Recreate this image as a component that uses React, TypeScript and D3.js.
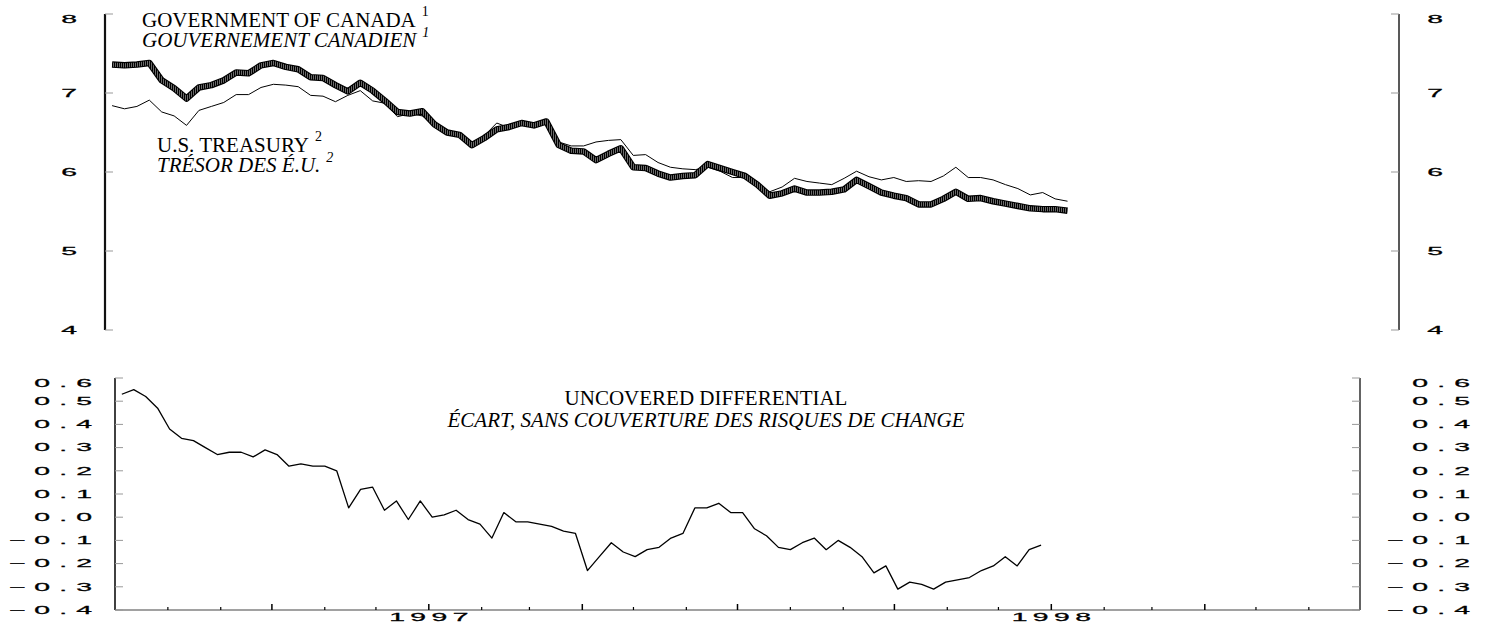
import * as d3 from 'd3';

// Weekly observations, first one on Friday 5 July 1996
const START = new Date(1996, 6, 5);

// Government of Canada yields (%)
const canadaYield = [
  7.36, 7.35, 7.36, 7.38, 7.16, 7.06, 6.93, 7.07, 7.10, 7.16,
  7.26, 7.25, 7.35, 7.38, 7.33, 7.30, 7.20, 7.19, 7.10, 7.02,
  7.13, 7.03, 6.90, 6.76, 6.74, 6.77, 6.60, 6.50, 6.47, 6.34,
  6.43, 6.54, 6.57, 6.62, 6.59, 6.64, 6.34, 6.27, 6.26, 6.15,
  6.23, 6.30, 6.06, 6.05, 5.98, 5.93, 5.95, 5.96, 6.10, 6.05,
  6.00, 5.95, 5.84, 5.70, 5.73, 5.79, 5.74, 5.74, 5.75, 5.78,
  5.90, 5.82, 5.74, 5.70, 5.67, 5.59, 5.59, 5.66, 5.75, 5.66,
  5.67, 5.63, 5.60, 5.57, 5.54, 5.53, 5.53, 5.51,
];

// U.S. Treasury yields (%)
const usYield = [
  6.84, 6.80, 6.83, 6.91, 6.76, 6.71, 6.59, 6.78, 6.83, 6.88,
  6.98, 6.98, 7.07, 7.11, 7.10, 7.08, 6.97, 6.96, 6.89, 6.97,
  7.03, 6.90, 6.87, 6.70, 6.74, 6.71, 6.60, 6.49, 6.47, 6.36,
  6.46, 6.62, 6.56, 6.64, 6.61, 6.66, 6.38, 6.33, 6.33, 6.38,
  6.40, 6.41, 6.21, 6.22, 6.12, 6.06, 6.04, 6.03, 6.06, 6.01,
  5.93, 5.93, 5.82, 5.75, 5.81, 5.92, 5.88, 5.86, 5.84, 5.92,
  6.01, 5.94, 5.90, 5.93, 5.88, 5.89, 5.88, 5.95, 6.06, 5.93,
  5.93, 5.90, 5.84, 5.79, 5.71, 5.74, 5.66, 5.63,
];

// Uncovered differential (percentage points)
const uncoveredDiff = [
  0.53, 0.55, 0.52, 0.47, 0.38, 0.34, 0.33, 0.30, 0.27, 0.28,
  0.28, 0.26, 0.29, 0.27, 0.22, 0.23, 0.22, 0.22, 0.20, 0.04,
  0.12, 0.13, 0.03, 0.07, -0.01, 0.07, 0.00, 0.01, 0.03, -0.01,
  -0.03, -0.09, 0.02, -0.02, -0.02, -0.03, -0.04, -0.06, -0.07, -0.23,
  -0.17, -0.11, -0.15, -0.17, -0.14, -0.13, -0.09, -0.07, 0.04, 0.04,
  0.06, 0.02, 0.02, -0.05, -0.08, -0.13, -0.14, -0.11, -0.09, -0.14,
  -0.10, -0.13, -0.17, -0.24, -0.21, -0.31, -0.28, -0.29, -0.31, -0.28,
  -0.27, -0.26, -0.23, -0.21, -0.17, -0.21, -0.14, -0.12,
];

const yieldTicks = [4, 5, 6, 7, 8];
const diffTicks = [-0.4, -0.3, -0.2, -0.1, 0.0, 0.1, 0.2, 0.3, 0.4, 0.5, 0.6];
const yearLabels = [new Date(1997, 0, 1), new Date(1998, 0, 1)];

const weeks = canadaYield.map((_, i) => d3.timeWeek.offset(START, i));
const xDomain: [Date, Date] = [new Date(1996, 6, 1), new Date(1998, 6, 1)];

const W = 1490;
const H = 627;
const top = { left: 105, right: 1399, top: 14, bottom: 330 };
const bot = { left: 115, right: 1360, top: 378, bottom: 610 };

const serif = '"Liberation Serif", "Times New Roman", serif';
const sans = '"Liberation Sans", Arial, sans-serif';
const SX = 2.7; // wide, squat digits of the original

function WideText(props: { x: number, y: number, text: string, anchor: 'start' | 'middle' | 'end', ls: number }) {
  // letter-spacing leaves a trailing gap; move the anchor to compensate
  const shift = props.anchor === 'end' ? props.ls : props.anchor === 'middle' ? props.ls / 2 : 0;
  return (
    <g transform={`translate(${props.x},${props.y}) scale(${SX},1)`}>
      <text x={shift} dy="0.36em" textAnchor={props.anchor} fontFamily={sans} fontSize={10.5}
        letterSpacing={props.ls} fill="#000" stroke="#000" strokeWidth={0.25}>{props.text}</text>
    </g>
  );
}

export default function App() {
  const xTop = d3.scaleTime().domain(xDomain).range([top.left, top.right]);
  const xBot = d3.scaleTime().domain(xDomain).range([bot.left, bot.right]);
  const yTop = d3.scaleLinear().domain([4, 8]).range([top.bottom, top.top]);
  const yBot = d3.scaleLinear().domain([-0.4, 0.6]).range([bot.bottom, bot.top]);

  const lineTop = d3.line<number>().x((_, i) => xTop(weeks[i])).y(d => yTop(d));
  const lineBot = d3.line<number>().x((_, i) => xBot(weeks[i])).y(d => yBot(d));

  const months = d3.timeMonth.range(d3.timeMonth.offset(xDomain[0], 1), xDomain[1]);
  const fmt = d3.format('.1f');
  const diffLabel = (v: number) => fmt(v).replace('-', '\u2212');

  return (
    <svg width={W} height={H} style={{ position: 'absolute', left: 0, top: 0, background: '#fff' }}>
      <defs>
        <pattern id="hatch" width="2" height="4" patternUnits="userSpaceOnUse">
          <rect width="2" height="4" fill="#6a6a6a" />
          <rect width="1" height="4" fill="#000" />
        </pattern>
      </defs>

      {/* ---------- top panel: yields ---------- */}
      <line x1={top.left} x2={top.left} y1={top.top} y2={top.bottom} stroke="#111" strokeWidth={2.2} />
      <line x1={top.right} x2={top.right} y1={top.top} y2={top.bottom} stroke="#222" strokeWidth={1.5} />
      {yieldTicks.map(t => (
        <g key={'yt' + t}>
          <line x1={top.left} x2={top.left + 8} y1={yTop(t)} y2={yTop(t)} stroke="#999" strokeWidth={1} />
          <line x1={top.right - 8} x2={top.right} y1={yTop(t)} y2={yTop(t)} stroke="#999" strokeWidth={1} />
          <WideText x={69} y={Math.max(yTop(t), top.top + 5)} text={String(t)} anchor="middle" ls={0} />
          <WideText x={1435} y={Math.max(yTop(t), top.top + 5)} text={String(t)} anchor="middle" ls={0} />
        </g>
      ))}

      <path d={lineTop(usYield) || ''} fill="none" stroke="#000" strokeWidth={1} strokeLinejoin="round" />
      <path d={lineTop(canadaYield) || ''} fill="none" stroke="#000" strokeWidth={6.5} strokeLinejoin="round" />
      <path d={lineTop(canadaYield) || ''} fill="none" stroke="url(#hatch)" strokeWidth={4.3} strokeLinejoin="round" />

      <text x={142} y={27} fontFamily={serif} fontSize={21} fill="#000">
        GOVERNMENT OF CANADA<tspan dx={6} dy={-11} fontSize={14}>1</tspan>
      </text>
      <text x={142} y={47} fontFamily={serif} fontSize={21} fontStyle="italic" fill="#000">
        GOUVERNEMENT CANADIEN<tspan dx={6} dy={-10} fontSize={14}>1</tspan>
      </text>
      <text x={157} y={152} fontFamily={serif} fontSize={21} fill="#000">
        U.S. TREASURY<tspan dx={6} dy={-11} fontSize={14}>2</tspan>
      </text>
      <text x={157} y={172} fontFamily={serif} fontSize={21} fontStyle="italic" fill="#000">
        TRÉSOR DES É.U.<tspan dx={6} dy={-10} fontSize={14}>2</tspan>
      </text>

      {/* ---------- bottom panel: differential ---------- */}
      <line x1={bot.left} x2={bot.left} y1={bot.top} y2={bot.bottom} stroke="#111" strokeWidth={1.6} />
      <line x1={bot.right} x2={bot.right} y1={bot.top} y2={bot.bottom} stroke="#222" strokeWidth={1.4} />
      <line x1={bot.left} x2={bot.right} y1={bot.bottom} y2={bot.bottom} stroke="#444" strokeWidth={1.2} />
      {diffTicks.map(t => (
        <g key={'dt' + t}>
          <line x1={bot.left} x2={bot.left + 8} y1={yBot(t)} y2={yBot(t)} stroke="#999" strokeWidth={1} />
          <line x1={bot.right - 8} x2={bot.right} y1={yBot(t)} y2={yBot(t)} stroke="#999" strokeWidth={1} />
          <WideText x={92} y={Math.max(yBot(t), bot.top + 5)} text={diffLabel(t)} anchor="end" ls={3.4} />
          <WideText x={1470} y={Math.max(yBot(t), bot.top + 5)} text={diffLabel(t)} anchor="end" ls={3.4} />
        </g>
      ))}
      {months.map(m => {
        const major = m.getMonth() % 3 === 0;
        return (
          <line key={'m' + m.getTime()} x1={xBot(m)} x2={xBot(m)} y1={bot.bottom} y2={bot.bottom - (major ? 6 : 3)}
            stroke="#000" strokeWidth={major ? 1.5 : 1.2} />
        );
      })}
      {yearLabels.map(d => (
        <WideText key={'yl' + d.getFullYear()} x={xBot(d)} y={617} text={String(d.getFullYear())} anchor="middle" ls={2} />
      ))}

      <path d={lineBot(uncoveredDiff) || ''} fill="none" stroke="#000" strokeWidth={1.3} strokeLinejoin="round" />

      <text x={706} y={405} textAnchor="middle" fontFamily={serif} fontSize={21} fill="#000">UNCOVERED DIFFERENTIAL</text>
      <text x={706} y={427} textAnchor="middle" fontFamily={serif} fontSize={21} fontStyle="italic" fill="#000">
        ÉCART, SANS COUVERTURE DES RISQUES DE CHANGE
      </text>
    </svg>
  );
}
